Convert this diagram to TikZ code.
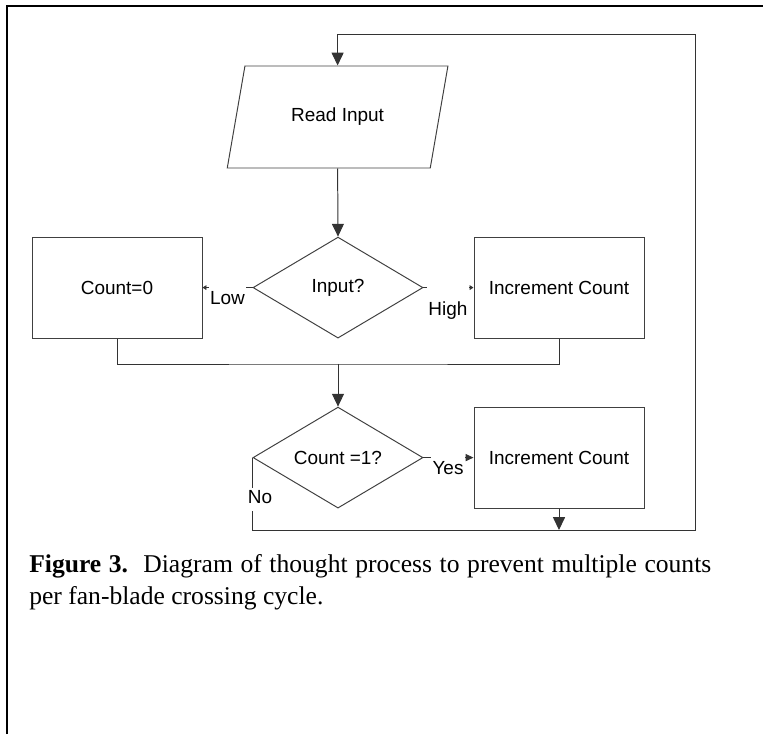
\documentclass[tikz,border=0pt]{standalone}
\usepackage{fontspec}
\setmainfont{Liberation Serif}
\setsansfont{Liberation Sans}
\usetikzlibrary{arrows.meta,shapes.geometric}

\begin{document}
\begin{tikzpicture}[font=\sffamily]
  \tikzset{
    blk/.style={draw=black!75,line width=0.7pt,minimum width=4.25cm,minimum height=2.525cm,inner sep=0pt,font=\sffamily\fontsize{13.5pt}{16pt}\selectfont},
    dec/.style={blk,diamond,aspect=1.68},
    io/.style={blk,trapezium,trapezium stretches=true,trapezium left angle=63.4,trapezium right angle=116.6,minimum width=5.525cm,minimum height=2.55cm},
    wire/.style={draw=black!80,line width=0.7pt},
    bigtip/.style={wire,-{Triangle[length=0.32cm,width=0.3cm]}},
    midtip/.style={wire,-{Triangle[length=0.2cm,width=0.18cm]}},
    tinytip/.style={wire,-{Triangle[length=0.1cm,width=0.12cm]}},
    lbl/.style={fill=white,inner xsep=1pt,inner ysep=0pt,anchor=base,font=\sffamily\fontsize{13.5pt}{16pt}\selectfont}
  }
  \useasboundingbox (0,0) rectangle (19.075,18.35);
  % page frame, cut off by the crop
  \draw[line width=1.4pt] (0.175,0) -- (0.175,18.2) -- (19.075,18.2);
  % steps
  \node[io] (read) at (8.44,15.425) {Read Input};
  \node[dec] (inp) at (8.45,11.16) {Input?};
  \node[blk] (zero) at (2.925,11.16) {Count=0};
  \node[blk] (inc1) at (13.975,11.16) {Increment Count};
  \node[dec] (cnt) at (8.45,6.91) {Count =1?};
  \node[blk] (inc2) at (13.975,6.91) {Increment Count};
  \coordinate (mrg) at (8.45,9.25);
  \coordinate (bl) at (17.375,5.1);
  \coordinate (tr) at (17.375,17.5);
  % connectors
  \draw[bigtip] (read.south) -- (inp.north);
  \draw[tinytip] (inp.west) -- (zero.east);
  \draw[tinytip] (inp.east) -- (inc1.west);
  \draw[wire] (zero.south) |- (mrg) -| (inc1.south);
  \draw[bigtip] (mrg) -- (cnt.north);
  \draw[midtip] (cnt.east) -- (inc2.west);
  \draw[bigtip] (cnt.west) |- (bl) -- (tr) -| (read.north);
  \draw[bigtip] (inc2.south) -- (inc2.south |- bl);
  % branch labels (white boxes hide the line)
  \node[lbl,text height=0.475cm,text depth=0.1cm] (lLow) at (5.6875,10.725) {Low};
  \node[lbl,text height=0.75cm,text depth=0.1cm] (lHigh) at (11.2,10.4625) {High};
  \node[lbl,text height=0.46cm,text depth=0.1cm] (lYes) at (11.2,6.4925) {Yes};
  \node[lbl,text height=0.4cm,text depth=0.175cm] (lNo) at (6.5,5.75) {No};
  % caption
  \node[anchor=base west,align=left,inner sep=0pt,font=\rmfamily\fontsize{18.2pt}{22.8pt}\selectfont] (cap) at (0.725,3.225)
    {\makebox[17.05cm][s]{\textbf{Figure 3.}\ \ Diagram of thought process to prevent multiple counts}\\per fan-blade crossing cycle.};
\end{tikzpicture}
\end{document}
